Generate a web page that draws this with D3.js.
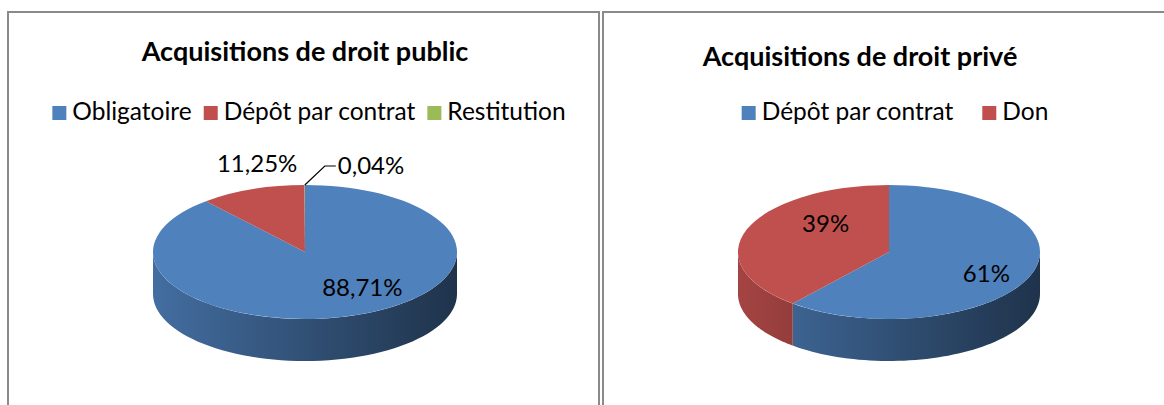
<!DOCTYPE html>
<html>
<head>
<meta charset="utf-8">
<script src="https://cdn.jsdelivr.net/npm/d3@7"></script>
<style>
  body { margin: 0; background: #fff; }
  svg { display: block; font-family: Lato, "Open Sans", sans-serif; }
</style>
</head>
<body>
<svg width="1164" height="405"></svg>
<script>
// data
const pubCategories = ["Obligatoire", "Dépôt par contrat", "Restitution"];
const pubValues = [88.71, 11.25, 0.04];
const pubColors = ["#4F81BD", "#C0504D", "#9BBB59"];

const privCategories = ["Dépôt par contrat", "Don"];
const privValues = [61, 39];
const privColors = ["#4F81BD", "#C0504D"];

// french number format (comma decimal)
const fr = d3.formatLocale({decimal: ",", thousands: " ", grouping: [3], currency: ["", " €"]});

const svg = d3.select("svg");
const defs = svg.append("defs");

const legendSize = 24.5;
const labelSize = 24;
const titleSize = 27;

// panel frames
const panels = [
  {x: 8, y: 12, w: 591, h: 420},
  {x: 603, y: 12, w: 600, h: 420}
];
svg.selectAll("rect.frame")
  .data(panels)
  .enter()
  .append("rect")
  .attr("class", "frame")
  .attr("x", d => d.x)
  .attr("y", d => d.y)
  .attr("width", d => d.w)
  .attr("height", d => d.h)
  .attr("fill", "#fff")
  .attr("stroke", "#8a8a8a")
  .attr("stroke-width", 2);

const charts = [
  {
    id: "pub", title: "Acquisitions de droit public", titleX: 305, titleY: 61,
    cats: pubCategories, vals: pubValues, colors: pubColors, fmt: fr.format(".2f"),
    legendX: 309, legendGap: 12,
    cx: 305, cy: 252, rx: 152, ry: 67, depth: 42,
    // label placement: radius factor on the ellipse + nudge, leader for tiny slices
    labels: [
      {f: 0.65, dx: 23, dy: -5},
      {f: 1.3, dx: 21, dy: -7},
      {f: 1.0, leader: true}
    ]
  },
  {
    id: "priv", title: "Acquisitions de droit privé", titleX: 860, titleY: 66,
    cats: privCategories, vals: privValues, colors: privColors, fmt: fr.format(".0f"),
    legendX: 895, legendGap: 29,
    cx: 889, cy: 252, rx: 151, ry: 67, depth: 42,
    labels: [
      {f: 0.65, dx: 5, dy: 7},
      {f: 0.65, dx: 29, dy: -14}
    ]
  }
];

charts.forEach(drawChart);

function drawChart(c) {
  const g = svg.append("g");

  // title
  g.append("text")
    .attr("x", c.titleX)
    .attr("y", c.titleY)
    .attr("text-anchor", "middle")
    .style("font-size", titleSize + "px")
    .style("font-weight", "bold")
    .text(c.title);

  // legend, laid out from measured text widths then centered
  const leg = g.append("g");
  let x = 0;
  c.cats.forEach((name, i) => {
    const item = leg.append("g").attr("transform", `translate(${x},0)`);
    item.append("rect")
      .attr("x", 0).attr("y", -14)
      .attr("width", 14).attr("height", 14)
      .attr("fill", c.colors[i]);
    const t = item.append("text")
      .attr("x", 20)
      .attr("y", 0)
      .style("font-size", legendSize + "px")
      .text(name);
    x += 20 + t.node().getComputedTextLength() + c.legendGap;
  });
  const legW = x - c.legendGap;
  leg.attr("transform", `translate(${c.legendX - legW / 2},120)`);

  // pie layout, excel style: start at 12 o'clock, clockwise
  const arcs = d3.pie().sort(null).value(d => d)(c.vals);
  const k = c.ry / c.rx;
  const pt = (a, f) => [c.cx + c.rx * f * Math.sin(a), c.cy - c.ry * f * Math.cos(a)];

  // side walls, only front half (pi/2 .. 3pi/2) is visible
  const line = d3.line();
  const side = g.append("g");
  arcs.forEach((d, i) => {
    const a0 = Math.max(d.startAngle, Math.PI / 2);
    const a1 = Math.min(d.endAngle, 3 * Math.PI / 2);
    if (a1 <= a0) return;
    const gid = `side-${c.id}-${i}`;
    const base = d3.color(c.colors[i]);
    const grad = defs.append("linearGradient")
      .attr("id", gid)
      .attr("gradientUnits", "userSpaceOnUse")
      .attr("x1", c.cx - c.rx).attr("x2", c.cx + c.rx)
      .attr("y1", 0).attr("y2", 0);
    grad.append("stop").attr("offset", 0).attr("stop-color", base.darker(0.45));
    grad.append("stop").attr("offset", 0.5).attr("stop-color", base.darker(1.35));
    grad.append("stop").attr("offset", 1).attr("stop-color", base.darker(2.6));

    const steps = d3.range(0, 61).map(s => a0 + (a1 - a0) * s / 60);
    const top = steps.map(a => pt(a, 1));
    const bottom = steps.slice().reverse().map(a => {
      const p = pt(a, 1);
      return [p[0], p[1] + c.depth];
    });
    side.append("path")
      .attr("d", line(top.concat(bottom)) + "Z")
      .attr("fill", `url(#${gid})`);
  });

  // top faces: circular arcs squashed into an ellipse
  const arc = d3.arc().innerRadius(0).outerRadius(c.rx);
  g.append("g")
    .attr("transform", `translate(${c.cx},${c.cy}) scale(1,${k})`)
    .selectAll("path")
    .data(arcs)
    .enter()
    .append("path")
    .attr("d", arc)
    .attr("fill", (d, i) => c.colors[i]);

  // data labels
  arcs.forEach((d, i) => {
    const L = c.labels[i];
    const mid = (d.startAngle + d.endAngle) / 2;
    const txt = c.fmt(d.data) + "%";
    if (L.leader) {
      const p0 = pt(mid, 1);
      const p1 = [p0[0] + 20, p0[1] - 19];
      const p2 = [p1[0] + 11, p1[1]];
      g.append("polyline")
        .attr("points", [p0, p1, p2].map(p => p.join(",")).join(" "))
        .attr("fill", "none")
        .attr("stroke", "#000")
        .attr("stroke-width", 1.2);
      g.append("text")
        .attr("x", p2[0] + 2)
        .attr("y", p2[1])
        .attr("dy", "0.35em")
        .style("font-size", labelSize + "px")
        .text(txt);
    } else {
      const p = pt(mid, L.f);
      g.append("text")
        .attr("x", p[0] + L.dx)
        .attr("y", p[1] + L.dy)
        .attr("dy", "0.35em")
        .attr("text-anchor", "middle")
        .style("font-size", labelSize + "px")
        .text(txt);
    }
  });
}
</script>
</body>
</html>
